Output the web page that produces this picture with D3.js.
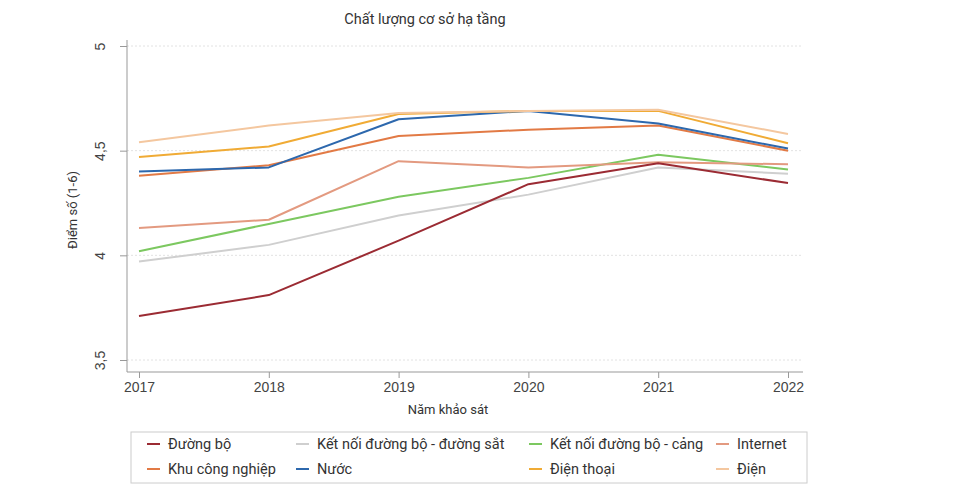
<!DOCTYPE html>
<html><head><meta charset="utf-8">
<script src="https://cdn.jsdelivr.net/npm/d3@7"></script>
<style>
html,body{margin:0;padding:0;background:#fff;}
svg{display:block;font-family:Roboto,"Noto Sans",sans-serif;}
</style></head>
<body>
<svg id="c" width="953" height="501"></svg>
<script>
const years = [2017, 2018, 2019, 2020, 2021, 2022];
const yTicks = [3.5, 4, 4.5, 5];
const seriesNames = ["Đường bộ", "Kết nối đường bộ - đường sắt", "Kết nối đường bộ - cảng", "Internet", "Khu công nghiệp", "Nước", "Điện thoại", "Điện"];
const duongBo = [3.71, 3.81, 4.07, 4.34, 4.44, 4.345];
const ketNoiDuongSat = [3.97, 4.05, 4.19, 4.29, 4.42, 4.39];
const ketNoiCang = [4.02, 4.15, 4.28, 4.37, 4.48, 4.41];
const internet = [4.13, 4.17, 4.45, 4.42, 4.445, 4.435];
const khuCongNghiep = [4.38, 4.43, 4.57, 4.60, 4.62, 4.50];
const nuoc = [4.40, 4.42, 4.65, 4.69, 4.63, 4.51];
const dienThoai = [4.47, 4.52, 4.675, 4.69, 4.69, 4.535];
const dien = [4.54, 4.62, 4.68, 4.69, 4.695, 4.58];
const colors = ["#9b2b33", "#cfcfcf", "#7cc860", "#e39a80", "#e27a45", "#2d68ad", "#f0ab35", "#f4c79f"];

const seriesValues = [duongBo, ketNoiDuongSat, ketNoiCang, internet, khuCongNghiep, nuoc, dienThoai, dien];
const series = seriesNames.map((n, i) => ({name: n, values: seriesValues[i], color: colors[i]}));

(function () {
const svg = d3.select("#c");
const pL = 127, pR = 803, pT = 40, pB = 372;
const x = d3.scaleLinear().domain([2017, 2022]).range([139, 788]);
const y = d3.scaleLinear().domain([3.5, 5]).range([360, 46]);
const fmt = d => String(d).replace(".", ",");

// title
svg.append("text").attr("x", 425).attr("y", 24).attr("text-anchor", "middle")
  .attr("font-size", 14.5).attr("fill", "#333").text("Chất lượng cơ sở hạ tầng");

// grid
svg.append("g").selectAll("line").data(yTicks).join("line")
  .attr("x1", pL).attr("x2", pR).attr("y1", d => y(d)).attr("y2", d => y(d))
  .attr("stroke", "#e2e2e2").attr("stroke-width", 1).attr("stroke-dasharray", "2,2");

// y axis
const yAxis = svg.append("g").attr("transform", `translate(${pL},0)`)
  .call(d3.axisLeft(y).tickValues(yTicks).tickFormat(fmt).tickSize(7).tickSizeOuter(0));
yAxis.select(".domain").attr("stroke", "#999").attr("d", `M0,${pT}V${pB}`);
yAxis.selectAll(".tick line").attr("stroke", "#999");
yAxis.selectAll(".tick text").attr("font-size", 14).attr("fill", "#444")
  .attr("font-family", null)
  .attr("x", null).attr("dy", null).attr("text-anchor", "middle")
  .attr("transform", "translate(-22,0) rotate(-90)").attr("y", 0);

// x axis
const xAxis = svg.append("g").attr("transform", `translate(0,${pB})`)
  .call(d3.axisBottom(x).tickValues(years).tickFormat(d3.format("d")).tickSize(6).tickSizeOuter(0));
xAxis.select(".domain").attr("stroke", "#999").attr("d", `M${pL},0H${pR}`);
xAxis.selectAll(".tick text").attr("font-size", 14).attr("fill", "#444").attr("font-family", null).attr("y", 10);
xAxis.selectAll(".tick line").attr("stroke", "#999");

// axis titles
svg.append("text").attr("x", 448).attr("y", 414).attr("text-anchor", "middle")
  .attr("font-size", 13).attr("fill", "#333").text("Năm khảo sát");
svg.append("text").attr("transform", "translate(77,210) rotate(-90)").attr("text-anchor", "middle")
  .attr("font-size", 13).attr("fill", "#333").text("Điểm số (1-6)");

// lines
const line = d3.line().x((d, i) => x(years[i])).y(d => y(d));
const drawOrder = [1, 2, 3, 0, 4, 5, 6, 7];
svg.append("g").selectAll("path").data(drawOrder.map(i => series[i])).join("path")
  .attr("d", d => line(d.values)).attr("fill", "none")
  .attr("stroke", d => d.color).attr("stroke-width", 2).attr("stroke-linejoin", "round");

// legend
svg.append("rect").attr("x", 131).attr("y", 432).attr("width", 676).attr("height", 51)
  .attr("fill", "#fff").attr("stroke", "#ccc").attr("stroke-width", 1);
const colX = [147, 296, 529, 716];
const rowY = [444, 469];
const lg = svg.append("g").selectAll("g").data(series).join("g")
  .attr("transform", (d, i) => `translate(${colX[i % 4]},${rowY[Math.floor(i / 4)]})`);
lg.append("line").attr("x1", 0).attr("x2", 13).attr("y1", 0).attr("y2", 0)
  .attr("stroke", d => d.color).attr("stroke-width", 2);
lg.append("text").attr("x", 21).attr("y", 0).attr("dy", "0.35em").attr("font-size", 14.5)
  .attr("fill", "#333").text(d => d.name);
})();
</script>
</body></html>
